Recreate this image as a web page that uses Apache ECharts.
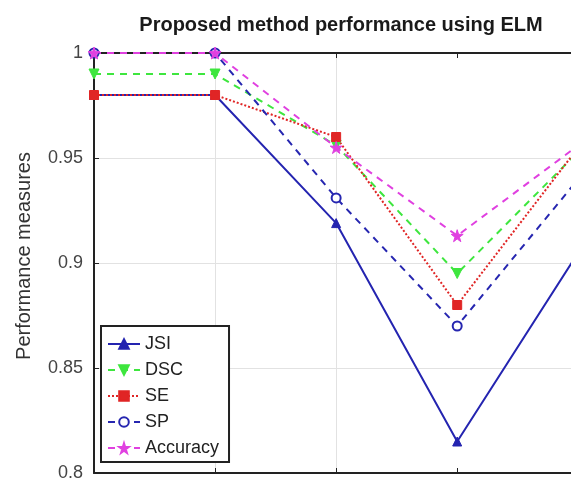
<!DOCTYPE html>
<html>
<head>
<meta charset="utf-8">
<script src="https://cdn.jsdelivr.net/npm/echarts@6/dist/echarts.min.js"></script>
<style>
html,body{margin:0;padding:0;background:#fff;}
#chart{width:571px;height:483px;}
</style>
</head>
<body>
<div id="chart"></div>
<script>
var categories = [1, 2, 3, 4, 5];
var jsi      = [0.98, 0.98, 0.919, 0.815, 0.905];
var dsc      = [0.99, 0.99, 0.956, 0.895, 0.953];
var se       = [0.98, 0.98, 0.960, 0.880, 0.955];
var sp       = [1.00, 1.00, 0.931, 0.870, 0.940];
var accuracy = [1.00, 1.00, 0.955, 0.913, 0.956];
var yTicks = [0.8, 0.85, 0.9, 0.95, 1];

var starPath = 'path://M50,0 L61,35 L98,35 L68,57 L79,91 L50,70 L21,91 L32,57 L2,35 L39,35 Z';

var chart = echarts.init(document.getElementById('chart'), null, {renderer: 'canvas'});
var font = 'Liberation Sans, Arial, sans-serif';

function pairs(vals) {
  return vals.map(function (v, i) { return [categories[i], v]; });
}

function mk(name, data, color, type, symbol, size, extra) {
  var s = {
    name: name, type: 'line', data: pairs(data),
    symbol: symbol, symbolSize: size, clip: true,
    lineStyle: {color: color, width: 2, type: type},
    itemStyle: {color: color, borderColor: color, borderWidth: 1},
    animation: false
  };
  for (var k in extra) s[k] = extra[k];
  return s;
}

var xTickVals = [1, 2, 3, 4];

chart.setOption({
  backgroundColor: '#fff',
  animation: false,
  title: {
    text: 'Proposed method performance using ELM',
    left: 336, top: 10, textAlign: 'center',
    textStyle: {fontFamily: font, fontSize: 20, fontWeight: 'bold', color: '#1a1a1a'}
  },
  grid: {left: 94, top: 53, right: 0, height: 420, show: false},
  legend: {
    orient: 'vertical', left: 101, top: 326,
    padding: [9, 10, 5, 6],
    backgroundColor: '#fff', borderColor: '#222', borderWidth: 2,
    itemWidth: 32, itemHeight: 12, itemGap: 8,
    textStyle: {fontFamily: font, fontSize: 18, color: '#222'},
    data: ['JSI', 'DSC', 'SE', 'SP', 'Accuracy']
  },
  xAxis: [{
    type: 'value', min: 1, max: 4.94, interval: 1,
    axisLine: {show: true, onZero: false, lineStyle: {color: '#222', width: 2}},
    axisTick: {show: true, inside: true, length: 5, customValues: xTickVals, lineStyle: {color: '#222'}},
    axisLabel: {show: false},
    splitLine: {show: true, showMinLine: false, showMaxLine: false, lineStyle: {color: '#e2e2e2', width: 1}}
  }, {
    type: 'value', min: 1, max: 4.94, interval: 1, position: 'top',
    axisLine: {show: true, onZero: false, lineStyle: {color: '#222', width: 2}},
    axisTick: {show: true, inside: true, length: 5, customValues: xTickVals, lineStyle: {color: '#222'}},
    axisLabel: {show: false},
    splitLine: {show: false}
  }],
  yAxis: {
    type: 'value', min: 0.8, max: 1, interval: 0.05,
    name: 'Performance measures', nameLocation: 'middle', nameGap: 60,
    nameTextStyle: {fontFamily: font, fontSize: 20, color: '#333', padding: [0, 0, 0, 14]},
    axisLine: {show: true, lineStyle: {color: '#222', width: 2}},
    axisTick: {show: true, inside: true, length: 5, lineStyle: {color: '#222'}},
    axisLabel: {fontFamily: font, fontSize: 18, color: '#444', margin: 11,
      customValues: yTicks,
      formatter: function (v) { return String(parseFloat(Number(v).toFixed(2))); }},
    splitLine: {show: true, lineStyle: {color: '#e2e2e2', width: 1}}
  },
  series: [
    mk('JSI', jsi, '#2424b0', 'solid', 'triangle', 9, {}),
    mk('DSC', dsc, '#3ee63e', [7, 6], 'triangle', 10, {symbolRotate: 180}),
    mk('SE', se, '#e02525', [2, 2], 'rect', 9, {}),
    mk('SP', sp, '#2626b0', [7, 6], 'emptyCircle', 9, {}),
    mk('Accuracy', accuracy, '#e040e0', [7, 6], starPath, 12, {})
  ]
});
</script>
</body>
</html>
